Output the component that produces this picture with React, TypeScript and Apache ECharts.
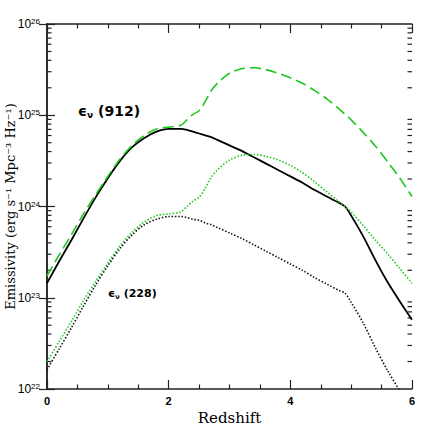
import React, { useEffect, useRef } from "react";
import * as echarts from "echarts";

// Redshift sample points (x axis)
const redshift = [
  0, 0.2, 0.4, 0.6, 0.8, 1.0, 1.2, 1.4, 1.6, 1.8, 2.0,
  2.2, 2.3, 2.4, 2.5, 2.6, 2.7, 2.8,
  3.0, 3.2, 3.4, 3.6, 3.8, 4.0, 4.2, 4.4, 4.6, 4.8,
  4.9, 5.0, 5.2, 5.4, 5.6, 5.8, 6.0,
];

// log10 of emissivity (erg s^-1 Mpc^-3 Hz^-1)
const log912Black = [
  23.16, 23.40, 23.63, 23.87, 24.10, 24.31, 24.50, 24.65, 24.75, 24.82, 24.85,
  24.85, 24.84, 24.82, 24.80, 24.78, 24.76, 24.73,
  24.67, 24.61, 24.54, 24.47, 24.40, 24.33, 24.26, 24.18, 24.11, 24.04,
  24.00, 23.90, 23.67, 23.41, 23.17, 22.96, 22.76,
];
const log912Green = [
  23.24, 23.47, 23.69, 23.92, 24.13, 24.33, 24.52, 24.67, 24.78, 24.85, 24.87,
  24.89, 24.95, 25.01, 25.05, 25.15, 25.27, 25.35,
  25.46, 25.51, 25.52, 25.50, 25.46, 25.41, 25.35, 25.27, 25.18, 25.07,
  25.01, 24.95, 24.81, 24.66, 24.49, 24.31, 24.11,
];
const log228Green = [
  22.30, 22.52, 22.74, 22.97, 23.18, 23.38, 23.57, 23.72, 23.83, 23.90, 23.92,
  23.94, 24.00, 24.06, 24.10, 24.20, 24.32, 24.40,
  24.51, 24.56, 24.57, 24.55, 24.51, 24.45, 24.37, 24.27, 24.16, 24.05,
  24.00, 23.94, 23.79, 23.63, 23.48, 23.32, 23.16,
];
const log228Black = [
  22.21, 22.44, 22.67, 22.91, 23.14, 23.35, 23.54, 23.69, 23.80, 23.86, 23.89,
  23.89, 23.88, 23.86, 23.85, 23.82, 23.80, 23.77,
  23.71, 23.65, 23.58, 23.51, 23.44, 23.37, 23.30, 23.22, 23.15, 23.08,
  23.05, 22.95, 22.72, 22.45, 22.20, 21.98, 21.78,
];

// Log-axis minor tick positions (multipliers within each decade)
const decades = [22, 23, 24, 25];
const minorMultipliers = [2, 3, 4, 5, 6, 7, 8, 9];

const AXIS_COLOR = "#222";
const GREEN = "#1ec81e";

export default function App() {
  const ref = useRef<HTMLDivElement>(null);

  useEffect(() => {
    const chart = echarts.init(ref.current!, null, { renderer: "svg" });
    const toPairs = (logs: number[]) =>
      redshift.map((z, i) => [z, Math.pow(10, logs[i])]);

    const minorVals: number[][] = [];
    decades.forEach((d) =>
      minorMultipliers.forEach((m) => minorVals.push([0, m * Math.pow(10, d)]))
    );

    const axisLine = { show: true, lineStyle: { color: AXIS_COLOR, width: 1.5 } };
    const tickStyle = { color: AXIS_COLOR, width: 1.2 };

    const yRich = {
      b: { fontFamily: "Liberation Sans", fontSize: 12, lineHeight: 13, color: "#000" },
      s: { fontFamily: "Liberation Sans", fontSize: 8, lineHeight: 7, verticalAlign: "top", color: "#000" },
    };

    const xAxisBase = {
      type: "value",
      min: 0,
      max: 6,
      interval: 2,
      axisLine,
      axisTick: { show: true, inside: true, length: 9, lineStyle: tickStyle },
      minorTick: { show: true, splitNumber: 4, length: 4.5, lineStyle: tickStyle },
      splitLine: { show: false },
      minorSplitLine: { show: false },
    };
    const yAxisBase = {
      type: "log",
      logBase: 10,
      min: 1e22,
      max: 1e26,
      axisLine,
      axisTick: { show: true, inside: true, length: 8, lineStyle: tickStyle },
      splitLine: { show: false },
    };

    const lineSeries = (
      name: string,
      logs: number[],
      color: string,
      type: any,
      width: number
    ) => ({
      name,
      type: "line",
      data: toPairs(logs),
      showSymbol: false,
      symbol: "none",
      smooth: 0.3,
      clip: true,
      lineStyle: { color, width, type },
      xAxisIndex: 0,
      yAxisIndex: 0,
      z: 3,
    });

    chart.setOption({
      animation: false,
      backgroundColor: "#fff",
      grid: {
        left: 47,
        right: 24,
        top: 24,
        bottom: 47,
        containLabel: false,
        outerBoundsMode: "none",
      },
      xAxis: [
        {
          ...xAxisBase,
          position: "bottom",
          axisLabel: {
            show: true,
            fontFamily: "Liberation Sans",
            fontWeight: "bold",
            fontSize: 11,
            color: "#000",
            margin: 6,
          },
          name: "Redshift",
          nameLocation: "middle",
          nameGap: 21,
          nameMoveOverlap: false,
          nameTextStyle: { fontFamily: "DejaVu Serif", fontSize: 15, color: "#000" },
        },
        { ...xAxisBase, position: "top", axisLabel: { show: false } },
      ],
      yAxis: [
        {
          ...yAxisBase,
          position: "left",
          axisLabel: {
            show: true,
            margin: 7,
            formatter: (v: number) => `{b|10}{s|${Math.round(Math.log10(v))}}`,
            rich: yRich,
          },
          name: "Emissivity (erg s⁻¹ Mpc⁻³ Hz⁻¹)",
          nameLocation: "middle",
          nameRotate: 90,
          nameGap: 30,
          nameMoveOverlap: false,
          nameTextStyle: { fontFamily: "DejaVu Serif", fontSize: 13, color: "#000" },
        },
        { ...yAxisBase, position: "right", axisLabel: { show: false } },
      ],
      series: [
        lineSeries("912 black", log912Black, "#000", "solid", 1.8),
        lineSeries("912 green", log912Green, GREEN, [11, 5], 1.6),
        lineSeries("228 green", log228Green, GREEN, [1.5, 1.8], 1.6),
        lineSeries("228 black", log228Black, "#111", [1.5, 1.8], 1.6),
        {
          type: "custom",
          name: "logMinorTicks",
          silent: true,
          clip: false,
          xAxisIndex: 0,
          yAxisIndex: 0,
          data: minorVals,
          encode: { x: 0, y: 1 },
          renderItem: (params: any, api: any) => {
            const p = api.coord([0, api.value(1)]);
            const cs = params.coordSys;
            const len = 4.5;
            return {
              type: "group",
              children: [
                {
                  type: "line",
                  shape: { x1: cs.x, y1: p[1], x2: cs.x + len, y2: p[1] },
                  style: { stroke: AXIS_COLOR, lineWidth: 1.2 },
                },
                {
                  type: "line",
                  shape: { x1: cs.x + cs.width - len, y1: p[1], x2: cs.x + cs.width, y2: p[1] },
                  style: { stroke: AXIS_COLOR, lineWidth: 1.2 },
                },
              ],
            };
          },
        },
      ],
      graphic: [
        {
          type: "text",
          left: 78,
          top: 103,
          style: {
            text: "{e|ϵ}{n|ν} (912)",
            fontFamily: "DejaVu Sans",
            fontWeight: "bold",
            fontSize: 14,
            lineHeight: 16,
            fill: "#000",
            rich: {
              e: { fontFamily: "DejaVu Sans", fontWeight: "bold", fontSize: 14, lineHeight: 16 },
              n: { fontFamily: "DejaVu Sans", fontWeight: "bold", fontSize: 9, lineHeight: 10, verticalAlign: "bottom" },
            },
          },
        },
        {
          type: "text",
          left: 108,
          top: 287,
          style: {
            text: "{e|ϵ}{n|ν} (228)",
            fontFamily: "DejaVu Sans",
            fontWeight: "bold",
            fontSize: 11,
            lineHeight: 13,
            fill: "#000",
            rich: {
              e: { fontFamily: "DejaVu Sans", fontWeight: "bold", fontSize: 11, lineHeight: 13 },
              n: { fontFamily: "DejaVu Sans", fontWeight: "bold", fontSize: 7, lineHeight: 8, verticalAlign: "bottom" },
            },
          },
        },
      ],
    });

    return () => chart.dispose();
  }, []);

  return (
    <div
      ref={ref}
      style={{ position: "fixed", left: 0, top: 0, width: 436, height: 436 }}
    />
  );
}
